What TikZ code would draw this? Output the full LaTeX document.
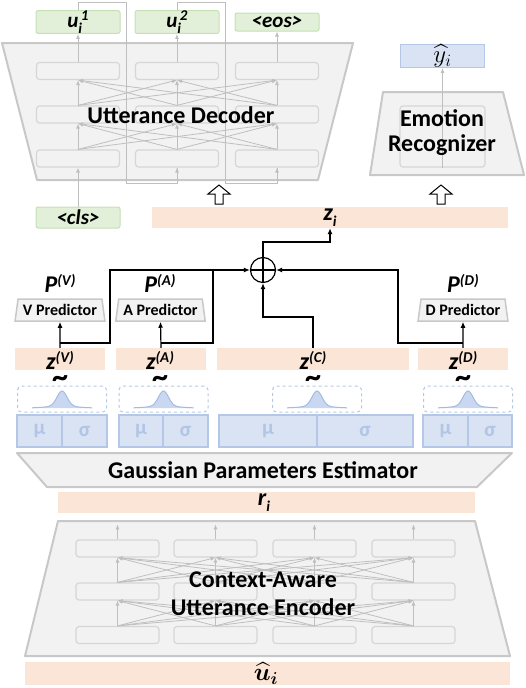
\documentclass[tikz,border=0pt]{standalone}
\usepackage{amsmath}
\usepackage{fontspec}
\setmainfont{Carlito}
\usetikzlibrary{arrows.meta,shapes.geometric}
\definecolor{cgray}{HTML}{BFBFBF}
\definecolor{cgrayb}{HTML}{C8C8C8}
\definecolor{cgrayfill}{HTML}{F2F2F2}
\definecolor{cinner}{HTML}{D6D6D6}
\definecolor{cgreen}{HTML}{E2F0D9}
\definecolor{cgreenb}{HTML}{C5E0B4}
\definecolor{cpeach}{HTML}{FBE5D6}
\definecolor{cblue}{HTML}{DAE3F3}
\definecolor{cblueb}{HTML}{B4C7E7}
\definecolor{cbluet}{HTML}{B2C5E7}
\definecolor{cbellf}{HTML}{C9D7F0}
\definecolor{cbelll}{HTML}{A3BBE3}
\newcommand{\biglbl}{\fontsize{24}{25}\selectfont\bfseries}
\newcommand{\toklbl}{\fontsize{21}{21}\selectfont\bfseries\itshape}
\newcommand{\predlbl}{\fontsize{16}{18}\selectfont\bfseries}
\newcommand{\varlbl}{\fontsize{24}{24}\selectfont\bfseries\itshape}
\newcommand{\supsz}{\fontsize{15}{15}\selectfont}
\begin{document}
\begin{tikzpicture}[x=1pt,y=-1pt,
  trap/.style={draw=cgrayb, fill=cgrayfill, line width=2pt, line join=round},
  inbox/.style={draw=cinner, line width=1.2pt, rounded corners=3pt, minimum width=83pt, minimum height=17pt, inner sep=0pt},
  garrow/.style={draw=cgray, line width=0.8pt, -{Latex[length=5pt,width=4pt]}},
  gline/.style={draw=cgray, line width=1pt},
  tok/.style={draw=cgreenb, fill=cgreen, line width=1pt, rounded corners=2pt, minimum width=84pt, minimum height=18pt, inner sep=0pt, font=\toklbl},
  bar/.style={fill=cpeach, inner sep=0pt, minimum height=22pt},
  blk/.style={draw=black, line width=1.2pt},
  barrow/.style={blk, -{Latex[length=6pt,width=5pt]}},
  pred/.style={trapezium, trapezium stretches=true, trapezium left angle=77, trapezium right angle=77, draw=cgrayb, fill=cgrayfill, line width=1.5pt, minimum width=90pt, minimum height=22pt, inner sep=0pt, font=\predlbl},
  ms/.style={draw=cblueb, fill=cblue, line width=1.2pt, minimum height=32pt, inner sep=0pt, text=cbluet, font=\fontsize{21}{21}\selectfont\bfseries},
  dbox/.style={draw=cblueb, dashed, line width=1pt, rounded corners=4pt, minimum width=89pt, minimum height=26pt, inner sep=0pt},
  hollow/.style={draw=black, fill=white, line width=1pt, line join=miter}
]
\useasboundingbox (0,0) rectangle (526,688);

% ================= Utterance Decoder =================
\draw[trap] (2,43) -- (353,43) -- (318,180) -- (37,180) -- cycle;
\foreach \c/\x in {1/78,2/177,3/277}{
  \foreach \r/\y in {1/71,2/114.5,3/158.5}{
    \node[inbox] (d\c\r) at (\x,\y) {};
  }
}
\foreach \a in {1,2,3}{
  \foreach \b in {1,2,3}{
    \draw[garrow] (d\a2.north) -- (d\b1.south);
    \draw[garrow] (d\a3.north) -- (d\b2.south);
  }
}
\node[tok] (u1) at (78,22) {u\rlap{\raisebox{-6pt}{\supsz i}}\raisebox{7pt}{\supsz\,1}};
\node[tok] (u2) at (177,22) {u\rlap{\raisebox{-6pt}{\supsz i}}\raisebox{7pt}{\supsz\,2}};
\node[tok] (eos) at (277,22) {<eos>};
\node[tok, minimum height=21pt] (cls) at (78,217.5) {<cls>};
\draw[garrow] (d11.north) -- (u1.south);
\draw[garrow] (d21.north) -- (u2.south);
\draw[garrow] (d31.north) -- (eos.south);
\draw[gline] (u1.north) |- (126,2) -- (126,183) -| (d23.south);
\draw[gline] (u2.north) |- (225,2) -- (225,183) -| (d33.south);
\draw[garrow] (177,176) -- (d23.south);
\draw[garrow] (277,176) -- (d33.south);
\draw[garrow] (cls.north) -- (d13.south);
\node[font=\biglbl] (declbl) at (181,115) {Utterance Decoder};

% ================= Emotion Recognizer =================
\draw[trap] (383,92) -- (503,92) -- (524,175) -- (370,175) -- cycle;
\node[inbox, minimum width=85pt, minimum height=61pt] (erin) at (442.5,136.5) {};
\node[draw=cblueb, fill=cblue, line width=1pt, minimum width=84pt, minimum height=18pt, inner sep=0pt, font=\fontsize{23}{23}\selectfont] (yhat) at (442.5,56) {\raisebox{2pt}{$\widehat{y}_{i}$}};
\draw[garrow] (erin.south) -- (yhat.south);
\node[font=\biglbl, align=center] (erlbl) at (442,133) {Emotion\\Recognizer};

% hollow arrows
\draw[hollow] (219,185) -- (230,194) -- (223,194) -- (223,204) -- (215,204) -- (215,194) -- (208,194) -- cycle;
\draw[hollow] (441,185) -- (452,194) -- (445,194) -- (445,204) -- (437,204) -- (437,194) -- (430,194) -- cycle;

% z_i bar
\node[bar, minimum width=356pt, minimum height=21pt, font=\varlbl] (zi) at (330,217.5) {\raisebox{2pt}{z\raisebox{-6pt}{\supsz i}}};

% sum
\node[circle, draw=black, line width=1.2pt, minimum size=25pt, inner sep=0pt] (sum) at (263,270) {};
\draw[blk] (sum.north) -- (sum.south);
\draw[blk] (sum.west) -- (sum.east);
\draw[barrow] (sum.north) |- (330,242) -- (zi.south);

% predictors
\node[pred] (pV) at (60,310) {V Predictor};
\node[pred] (pA) at (160.5,310) {A Predictor};
\node[pred] (pD) at (463,310) {D Predictor};
\node[font=\varlbl] (PV) at (60,283) {P\raisebox{7pt}{\supsz(V)}};
\node[font=\varlbl] (PA) at (160,283) {P\raisebox{7pt}{\supsz(A)}};
\node[font=\varlbl] (PD) at (463,283) {P\raisebox{7pt}{\supsz(D)}};

% z bars
\node[bar, minimum width=90pt] (zV) at (60,359) {};
\node[bar, minimum width=90pt] (zA) at (161,359) {};
\node[bar, minimum width=192pt] (zC) at (313,359) {};
\node[bar, minimum width=90pt] (zD) at (463,359) {};
\foreach \n/\x/\t in {V/60/V,A/160/A,C/313/C,D/463/D}{
  \node[font=\varlbl] (zl\n) at (\x,360) {z\raisebox{7pt}{\supsz(\t)}};
  \node[font=\fontsize{32}{32}\selectfont\bfseries, inner sep=0pt] (tl\n) at (\x,382) {\textasciitilde};
}

% black connectors
\coordinate (jV) at (60,343);
\coordinate (jA) at (161,343);
\coordinate (jD) at (463,343);
\draw[barrow] (zV.north) -- (pV.south);
\draw[barrow] (zA.north) -- (pA.south);
\draw[barrow] (zD.north) -- (pD.south);
\draw[barrow] (jV) -| (110,270) -- (sum.west);
\draw[blk] (jA) -| (213,270);
\draw[barrow] (zC.north) |- (263,317) -- (sum.south);
\draw[barrow] (jD) -| (398,270) -- (sum.east);

% gaussian boxes
\foreach \n/\cx in {V/62,A/163.5,C/317,D/468}{
  \node[dbox] (g\n) at (\cx,399) {};
  \fill[cbellf] (\cx-30,408) -- plot[domain=-30:30,samples=61] ({\cx+\x},{408-15*exp(-(\x/7)^2)-2*exp(-(\x/20)^2)}) -- (\cx+30,408) -- cycle;
  \draw[cbelll, line width=1pt] plot[domain=-30:30,samples=61] ({\cx+\x},{408-15*exp(-(\x/7)^2)-2*exp(-(\x/20)^2)});
}

% mu sigma
\node[ms, minimum width=45pt] (muV) at (39.5,431) {μ};
\node[ms, minimum width=45pt] (sgV) at (84.5,431) {σ};
\node[ms, minimum width=44pt] (muA) at (141,431) {μ};
\node[ms, minimum width=45pt] (sgA) at (185.5,431) {σ};
\node[ms, minimum width=98pt] (muC) at (268,431) {μ};
\node[ms, minimum width=96pt] (sgC) at (365,431) {σ};
\node[ms, minimum width=45pt] (muD) at (445.5,431) {μ};
\node[ms, minimum width=44pt] (sgD) at (490,431) {σ};

% Gaussian Parameters Estimator
\draw[trap] (17,453) -- (512,453) -- (477,487) -- (47,487) -- cycle;
\node[font=\biglbl] (gpe) at (263,470) {Gaussian Parameters Estimator};

% r_i
\node[bar, minimum width=417pt, minimum height=21pt, font=\varlbl] (ri) at (266.5,502.5) {\hspace*{-5pt}\raisebox{2pt}{r\raisebox{-6pt}{\supsz i}}};

% ================= Encoder =================
\draw[trap] (58,521) -- (475,521) -- (510,656) -- (25,656) -- cycle;
\foreach \c/\x in {1/117.5,2/215.5,3/314.5,4/413.5}{
  \foreach \r/\y in {1/548.5,2/591.5,3/635}{
    \node[inbox] (e\c\r) at (\x,\y) {};
  }
  \draw[garrow] (e\c1.north) -- ++(0,-15);
}
\foreach \a in {1,...,4}{
  \foreach \b in {1,...,4}{
    \draw[garrow] (e\a2.north) -- (e\b1.south);
    \draw[garrow] (e\a3.north) -- (e\b2.south);
  }
}
\node[font=\biglbl, align=center] (enclbl) at (263,594) {Context-Aware\\[3pt]Utterance Encoder};

% u hat bar
\node[bar, minimum width=485pt, minimum height=23pt, font=\fontsize{23}{23}\selectfont] (uhat) at (267.5,673.5) {\hspace*{-3pt}\raisebox{2pt}{$\boldsymbol{\widehat{u}_{i}}$}};
\end{tikzpicture}
\end{document}
